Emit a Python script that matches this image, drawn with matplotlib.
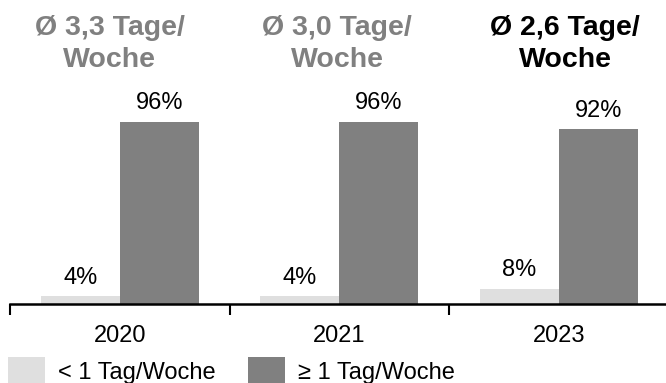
import matplotlib
matplotlib.use("Agg")
import matplotlib.pyplot as plt
from matplotlib.patches import Rectangle
import numpy as np

plt.rcParams['font.family'] = ['Liberation Sans', 'DejaVu Sans']

years = ["2020", "2021", "2023"]
less_than_one = [4, 4, 8]
one_or_more = [96, 96, 92]
average_line1 = ["Ø 3,3 Tage/", "Ø 3,0 Tage/", "Ø 2,6 Tage/"]
average_line2 = ["Woche", "Woche", "Woche"]
average_colors = ["#808080", "#808080", "#000000"]
series_labels = ["< 1 Tag/Woche", "≥ 1 Tag/Woche"]

light = "#dfdfdf"
dark = "#808080"

W, H = 666, 383
fig = plt.figure(figsize=(W / 100, H / 100), dpi=100)
ax = fig.add_axes([10 / W, (H - 304) / H, 1 - 10 / W, 190 / H])

x = np.arange(len(years))
bw = 0.36
ax.bar(x - bw / 2, less_than_one, bw, color=light)
ax.bar(x + bw / 2, one_or_more, bw, color=dark)

for xi, v in zip(x, less_than_one):
    ax.text(xi - bw / 2, v + 6.5, f"{v}%", ha="center", va="baseline", fontsize=17)
for xi, v in zip(x, one_or_more):
    ax.text(xi + bw / 2, v + 6.5, f"{v}%", ha="center", va="baseline", fontsize=17)

# headers above each year group
header_shift = [-0.045, -0.01, 0.03]
px_per_unit = 190 / 100.0
for xi, l1, l2, c, dx in zip(x, average_line1, average_line2, average_colors, header_shift):
    ax.text(xi + dx, (304 - 35) / px_per_unit, l1, ha="center", va="baseline",
            fontsize=20.5, fontweight="bold", color=c, clip_on=False)
    ax.text(xi + dx, (304 - 67) / px_per_unit, l2, ha="center", va="baseline",
            fontsize=20.5, fontweight="bold", color=c, clip_on=False)

ax.set_xlim(-0.5, -0.5 + 656 / 219.5)
ax.set_ylim(0, 100)
for s in ["top", "right", "left"]:
    ax.spines[s].set_visible(False)
ax.spines["bottom"].set_linewidth(1.8)
ax.set_yticks([])
ax.set_xticks(x)
ax.set_xticklabels(years, fontsize=17)
ax.tick_params(axis="x", which="major", length=0, pad=15)
ax.set_xticks([-0.5, 0.5, 1.5], minor=True)
ax.tick_params(axis="x", which="minor", length=8, width=1.5, direction="out")

# legend drawn in figure pixel coordinates
legend_x = [8, 248]
for lx, col, lab in zip(legend_x, [light, dark], series_labels):
    fig.add_artist(Rectangle((lx / W, 0), 37 / W, (H - 357) / H,
                             transform=fig.transFigure, color=col, lw=0))
    fig.text((lx + 50) / W, (H - 379) / H, lab, ha="left", va="baseline", fontsize=17)

fig.savefig("out.png", dpi=100)
